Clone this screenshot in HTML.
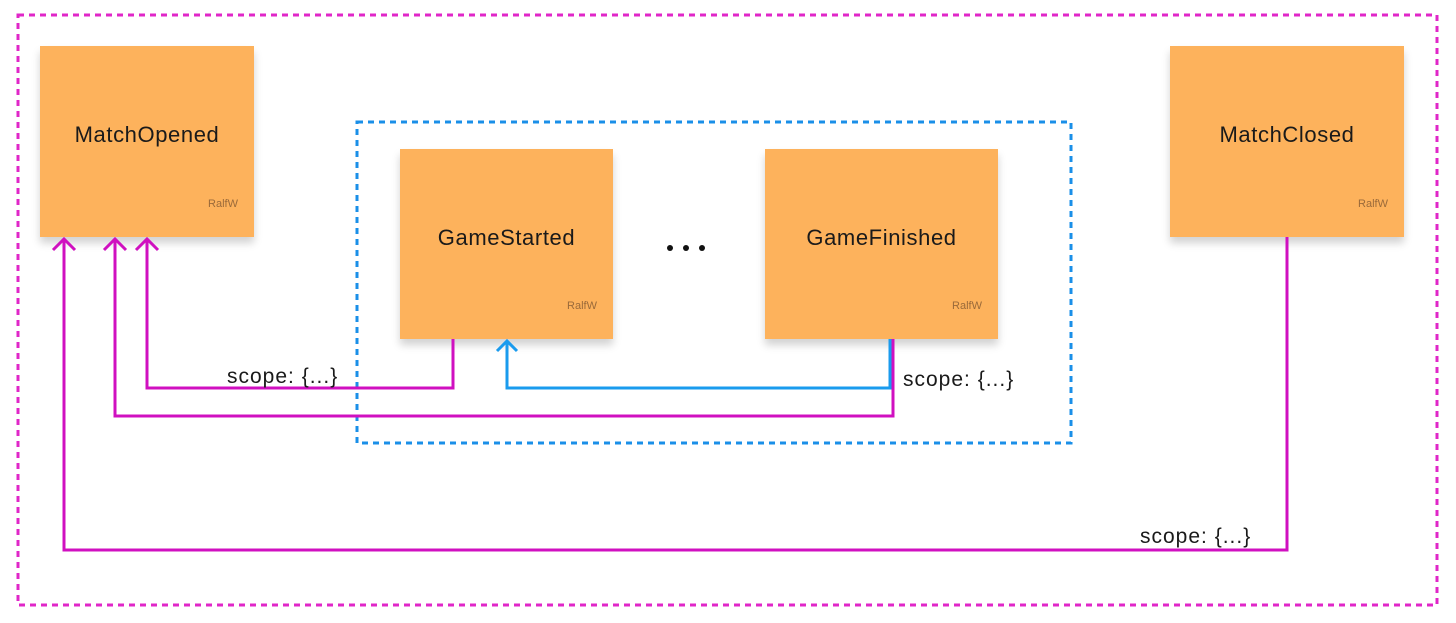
<!DOCTYPE html>
<html><head><style>
body{margin:0;background:#fff;width:1456px;height:623px;overflow:hidden;font-family:"Liberation Sans",sans-serif}
.b{position:absolute;background:#FDB25C;box-shadow:0 6px 8px rgba(0,0,0,0.18);}
.b .t{position:absolute;left:0;right:0;text-align:center;font-size:22px;letter-spacing:0.6px;color:#1a1a1a}
.b .a{position:absolute;right:16px;font-size:11px;color:#9a6a3a}
</style></head><body>
<div class="b" style="left:40px;top:46px;width:214px;height:191px"><div class="t" style="top:76px">MatchOpened</div><div class="a" style="top:152px">RalfW</div></div>
<div class="b" style="left:400px;top:149px;width:213px;height:190px"><div class="t" style="top:76px">GameStarted</div><div class="a" style="top:151px">RalfW</div></div>
<div class="b" style="left:765px;top:149px;width:233px;height:190px"><div class="t" style="top:76px">GameFinished</div><div class="a" style="top:151px">RalfW</div></div>
<div class="b" style="left:1170px;top:46px;width:234px;height:191px"><div class="t" style="top:76px">MatchClosed</div><div class="a" style="top:152px">RalfW</div></div>
<svg width="1456" height="623" style="position:absolute;left:0;top:0">
<rect x="18" y="15" width="1419" height="590" fill="none" stroke="#E026C8" stroke-width="3" stroke-dasharray="6 5"/>
<rect x="357" y="122" width="714" height="321" fill="none" stroke="#1A8FE8" stroke-width="3" stroke-dasharray="6 5"/>
<g fill="none" stroke="#D010C0" stroke-width="3">
<polyline points="453,339 453,388 147,388 147,239"/>
<polyline points="893,339 893,416 115,416 115,239"/>
<polyline points="1287,237 1287,550 64,550 64,239"/>
<polyline points="136,250 147,239 158,250"/>
<polyline points="104,250 115,239 126,250"/>
<polyline points="53,250 64,239 75,250"/>
</g>
<g fill="none" stroke="#1A9BEE" stroke-width="3">
<polyline points="890,339 890,388 507,388 507,341"/>
<polyline points="497,351 507,341 517,351"/>
</g>
<g fill="#111"><circle cx="670" cy="248" r="3"/><circle cx="686" cy="248" r="3"/><circle cx="702" cy="248" r="3"/></g>
<g font-family="Liberation Sans, sans-serif" font-size="21" fill="#1a1a1a" letter-spacing="1">
<text x="227" y="383">scope: {...}</text>
<text x="903" y="386">scope: {...}</text>
<text x="1140" y="543">scope: {...}</text>
</g>
</svg>
</body></html>
